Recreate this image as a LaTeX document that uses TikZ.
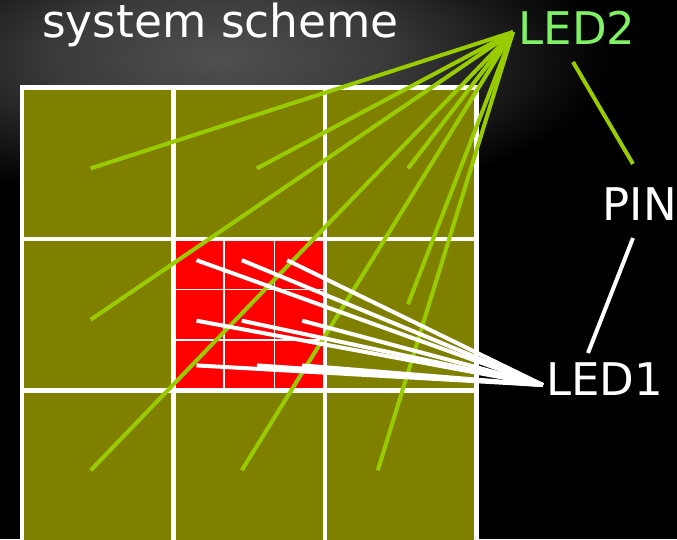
\documentclass[tikz,border=0pt]{standalone}
\usepackage{fontspec}
\setmainfont{DejaVu Sans}
\definecolor{cellolive}{RGB}{128,128,0}
\definecolor{cellred}{RGB}{255,0,0}
\definecolor{raygreen}{RGB}{153,204,0}
\definecolor{labelgreen}{RGB}{128,240,100}
\definecolor{glowc}{RGB}{80,80,80}
\pgfdeclareradialshading{glow}{\pgfpoint{0bp}{0bp}}{color(0bp)=(glowc); color(11bp)=(glowc!72!black); color(19bp)=(glowc!30!black); color(25bp)=(black); color(50bp)=(black)}
\tikzset{
  grid/.style={draw=white, line width=4.5pt},
  subgrid/.style={draw=white, line width=1.8pt},
  ray2/.style={draw=raygreen, line width=4pt},
  ray1/.style={draw=white, line width=4pt},
  lbl/.style={anchor=base west, inner sep=0pt, font=\fontsize{45}{54}\selectfont},
}
\begin{document}
\begin{tikzpicture}[x=1pt,y=-1pt]
\useasboundingbox (0,0) rectangle (677,539);
\clip (0,0) rectangle (677,539);
% background
\fill[black] (0,0) rectangle (677,539);
\shade[shading=glow] (220,58) ellipse [x radius=390, y radius=150];
% cells
\fill[cellolive] (22,87.5) rectangle (476.5,560);
\fill[cellred] (173.5,239) rectangle (325,390.5);
\draw[subgrid] (224,239) -- (224,390.5);
\draw[subgrid] (274.5,239) -- (274.5,390.5);
\draw[subgrid] (173.5,289.5) -- (325,289.5);
\draw[subgrid] (173.5,340) -- (325,340);
\draw[grid] (22,87.5) -- (476.5,87.5);
\draw[grid] (22,239) -- (476.5,239);
\draw[grid] (22,390.5) -- (476.5,390.5);
\draw[grid] (22,85) -- (22,560);
\draw[grid] (173.5,85) -- (173.5,560);
\draw[grid] (325,85) -- (325,560);
\draw[grid] (476.5,85) -- (476.5,560);
% labels
\node[lbl, text=white, font=\fontsize{45.5}{54}\selectfont] (title) at (42,37) {system scheme};
\node[lbl, text=labelgreen] (led2) at (518.6,44) {LED2};
\node[lbl, text=white] (pin) at (602.5,220) {PIN};
\node[lbl, text=white] (led1) at (546,395) {LED1};
% ray points
\coordinate (L2) at (513,32);
\coordinate (L1) at (543,385);
\coordinate (g1) at (90.7,168.4);
\coordinate (g2) at (256.9,168.4);
\coordinate (g3) at (408,168.4);
\coordinate (g4) at (90.7,319.7);
\coordinate (g5) at (408,304.2);
\coordinate (g6) at (90.7,470.3);
\coordinate (g7) at (241.8,470.3);
\coordinate (g8) at (377.8,470.3);
\coordinate (w1) at (196.5,260.2);
\coordinate (w2) at (241.8,260.2);
\coordinate (w3) at (287.1,260.2);
\coordinate (w4) at (196.5,320.7);
\coordinate (w5) at (241.8,320.7);
\coordinate (w6) at (302.2,320.7);
\coordinate (w7) at (196.5,365.4);
\coordinate (w8) at (256.9,365.4);
\coordinate (w9) at (302.2,365.4);
\coordinate (p2a) at (573,62);
\coordinate (p2b) at (633,164);
\coordinate (p1a) at (633,238);
\coordinate (p1b) at (588,353);
% green rays
\foreach \g in {g1,g2,g3,g4,g5,g6,g7,g8} \draw[ray2] (L2) -- (\g);
% white rays
\foreach \w in {w1,w2,w3,w4,w5,w6,w7,w8,w9} \draw[ray1] (L1) -- (\w);
% pin links
\draw[ray2] (p2a) -- (p2b);
\draw[ray1] (p1a) -- (p1b);
\end{tikzpicture}
\end{document}
